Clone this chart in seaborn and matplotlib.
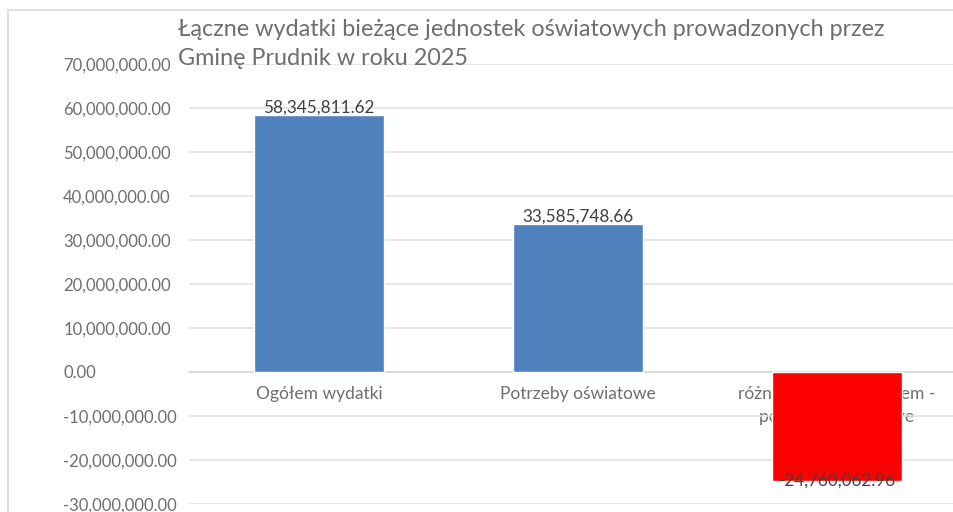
import matplotlib
matplotlib.use('Agg')

import matplotlib.pyplot as plt
import matplotlib.patches as mpatches
from matplotlib.ticker import FuncFormatter, MultipleLocator
import seaborn as sns

# chart data
categories = ["Ogółem wydatki", "Potrzeby oświatowe",
              "różnica: wydatki ogółem -\npotrzeby oświatowe"]
values = [58345811.62, 33585748.66, -24760062.96]
bar_colors = ["#4F81BD", "#4F81BD", "#FF0000"]
title = ("Łączne wydatki bieżące jednostek oświatowych prowadzonych przez\n"
         "Gminę Prudnik w roku 2025")

sns.set_theme(style="white")
plt.rcParams['font.family'] = ['Lato', 'DejaVu Sans']

W, H = 954, 512
fig = plt.figure(figsize=(W / 100, H / 100), dpi=100)
ax = fig.add_axes([189.5 / W, 8 / H, (W - 189.5) / W, 440 / H])

sns.barplot(x=categories, y=values, hue=categories, palette=bar_colors,
            legend=False, width=0.5, saturation=1, ax=ax, zorder=3)

ax.set_ylim(-30000000, 70000000)
ax.set_xlim(-0.5, (W - 189.5) / 259 - 0.5)
ax.yaxis.set_major_locator(MultipleLocator(10000000))
ax.yaxis.set_major_formatter(FuncFormatter(lambda v, p: f"{v:,.2f}"))
ax.set_axisbelow(True)
ax.grid(axis='y', color='#E3E3E3', linewidth=1.2)
ax.grid(axis='x', visible=False)
for side in ['left', 'right', 'top']:
    ax.spines[side].set_visible(False)
ax.spines['bottom'].set_position(('data', 0))
ax.spines['bottom'].set_color('#D9D9D9')
ax.spines['bottom'].set_linewidth(1.2)
ax.tick_params(axis='y', length=0, pad=91, labelsize=12, labelcolor='#6E6E6E')
ax.tick_params(axis='x', length=0, pad=10, labelsize=12.5, labelcolor='#6E6E6E')
for lab in ax.get_yticklabels():
    lab.set_horizontalalignment('left')
for lab in ax.get_xticklabels():
    lab.set_linespacing(1.55)
ax.set_xlabel("")
ax.set_ylabel("")

# value labels
for i, v in enumerate(values):
    if v >= 0:
        ax.text(i, v, f"{v:,.2f}", ha='center', va='bottom', fontsize=12.3,
                color='#404040', zorder=5)
    else:
        ax.text(i, v, f"{v:,.2f}", ha='center', va='center', fontsize=12.3,
                color='#404040', zorder=5)

fig.text(178 / W, 1 - 19 / H, title, ha='left', va='top', fontsize=16.8,
         color='#6E6E6E', linespacing=1.45)

# chart frame, cropped on the right and bottom
fig.add_artist(mpatches.Rectangle((8 / W, -0.1), 1.2, 1.1 - 10 / H,
                                  transform=fig.transFigure, fill=False,
                                  edgecolor='#D9D9D9', linewidth=1.2))

fig.savefig("out.png", dpi=100)
